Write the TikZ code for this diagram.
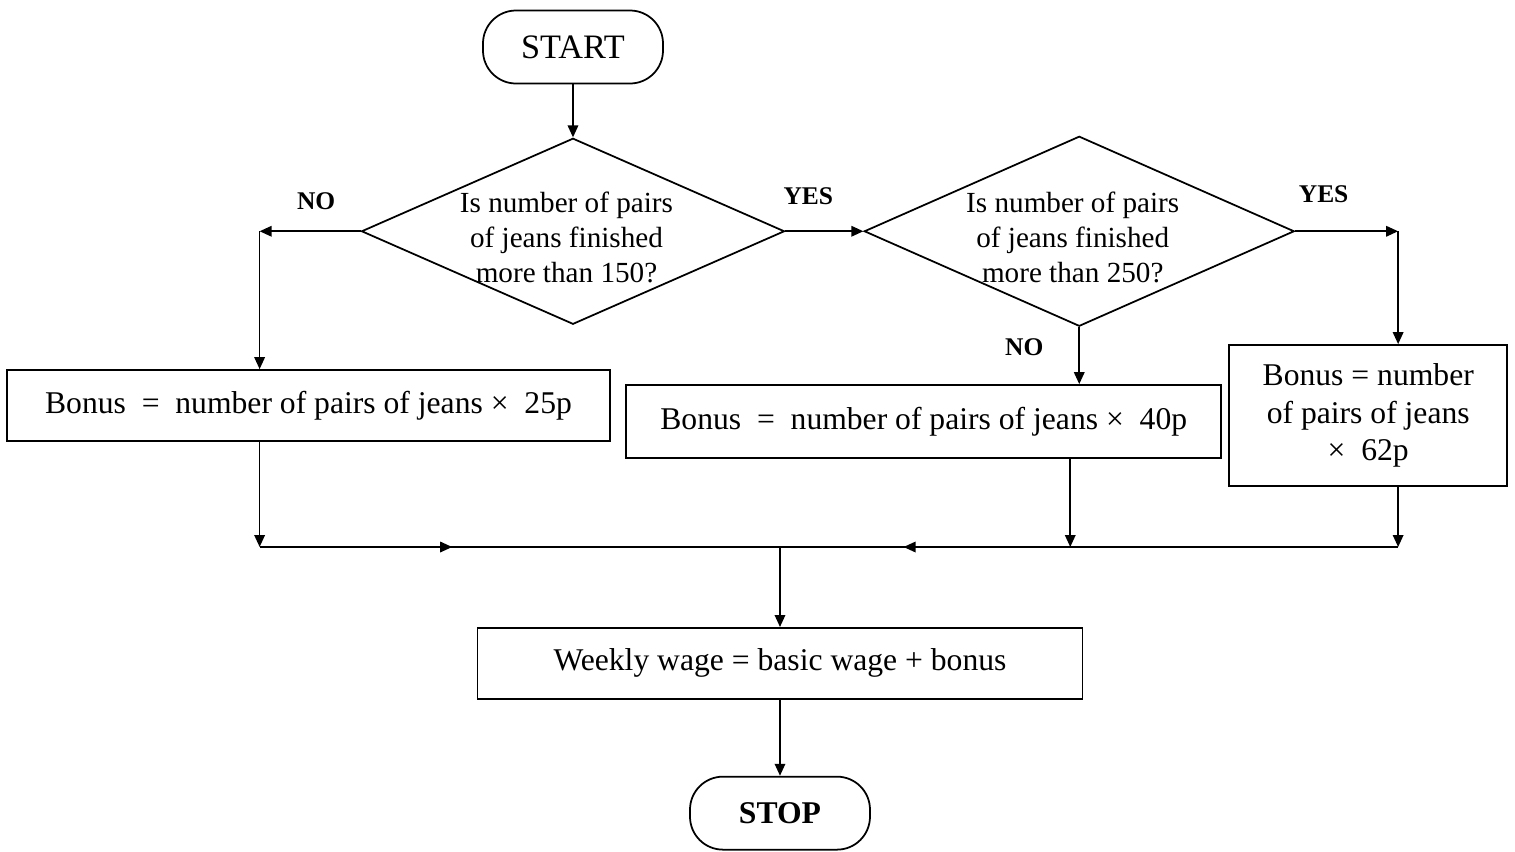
\documentclass[tikz,border=0pt]{standalone}
\usepackage{fontspec}
\setmainfont{Liberation Serif}
\usetikzlibrary{shapes.geometric, arrows.meta, positioning, calc, decorations.markings}

\begin{document}
\begin{tikzpicture}[
    node distance=1cm,
    line width=1pt,
    terminal/.style={rectangle, draw, rounded corners=0.66cm, minimum width=3.6cm, minimum height=1.46cm, font=\fontsize{19.5}{23}\selectfont},
    decision/.style={diamond, draw, inner sep=0pt, minimum width=8.46cm, minimum height=3.72cm},
    question/.style={align=center, xshift=-0.13cm, yshift=-0.13cm, font=\fontsize{16.6}{20}\selectfont},
    process/.style={rectangle, draw, align=center, minimum height=1.42cm, font=\fontsize{18}{21.3}\selectfont},
    answer/.style={inner sep=0pt, font=\fontsize{14.5}{17}\selectfont\bfseries},
    arrow/.style={-{Triangle[length=0.24cm, width=0.21cm]}},
    midarrow/.style={postaction={decorate}, decoration={markings, mark=at position #1 with {\arrow{Triangle[length=0.24cm, width=0.21cm]}}}}
]

\useasboundingbox (-11.46,0.94) rectangle (18.84,-16.08);

\node[terminal] (start) {START};
\node[decision, below=1.06cm of start, label={[name=t150, question]center:Is number of pairs\\of jeans finished\\more than 150?}] (q150) {};
\node[decision, right=1.56cm of q150, minimum width=8.6cm, minimum height=3.8cm, label={[name=t250, question]center:Is number of pairs\\of jeans finished\\more than 250?}] (q250) {};

\node[process, below=0.88cm of q150, xshift=-5.29cm, minimum width=12.06cm] (b25) {Bonus\ \ =\ \ number of pairs of jeans ×\ \ 25p};
\node[process, below=1.14cm of q250, xshift=-3.11cm, minimum width=11.9cm, minimum height=1.46cm] (b40) {Bonus\ \ =\ \ number of pairs of jeans ×\ \ 40p};
\node[process, below=0.34cm of q250, xshift=5.78cm, minimum width=5.56cm, minimum height=2.82cm] (b62) {Bonus = number\\of pairs of jeans\\×\ \ 62p};

\coordinate[left=2.02cm of q150.west] (no150);
\coordinate[right=2.06cm of q250.east] (yes250);
\coordinate (m40) at ($(b40.south)+(2.93,0)$);
\coordinate (join) at (4.14,-10);

\node[process, below=1.6cm of join, minimum width=12.1cm] (wage) {Weekly wage = basic wage + bonus};
\node[terminal, below=1.52cm of wage, font=\fontsize{18}{21}\selectfont\bfseries] (stop) {STOP};

% decisions
\draw[arrow] (start) -- (q150);
\draw[arrow] (q150.west) -- node[answer, above=0.41cm, xshift=0.12cm] (lno1) {NO} (no150);
\draw[arrow] (no150) -- (no150 |- b25.north);
\draw[arrow] (q150.east) -- node[answer, above=0.51cm, xshift=-0.32cm] (lyes1) {YES} (q250.west);
\draw[arrow] (q250.east) -- node[answer, above=0.55cm, xshift=-0.46cm] (lyes2) {YES} (yes250);
\draw[arrow] (yes250) -- (yes250 |- b62.north);
\draw[arrow] (q250.south) -- node[answer, left=0.7cm, yshift=0.16cm] (lno2) {NO} (q250.south |- b40.north);

% merge
\draw[arrow] (no150 |- b25.south) -- (no150 |- join);
\draw[midarrow=0.37] (no150 |- join) -- (join);
\draw[arrow] (m40) -- (m40 |- join);
\draw[arrow] (yes250 |- b62.south) -- (yes250 |- join);
\draw[midarrow=0.8] (yes250 |- join) -- (join);
\draw[arrow] (join) -- (wage);
\draw[arrow] (wage) -- (stop);

\end{tikzpicture}
\end{document}
